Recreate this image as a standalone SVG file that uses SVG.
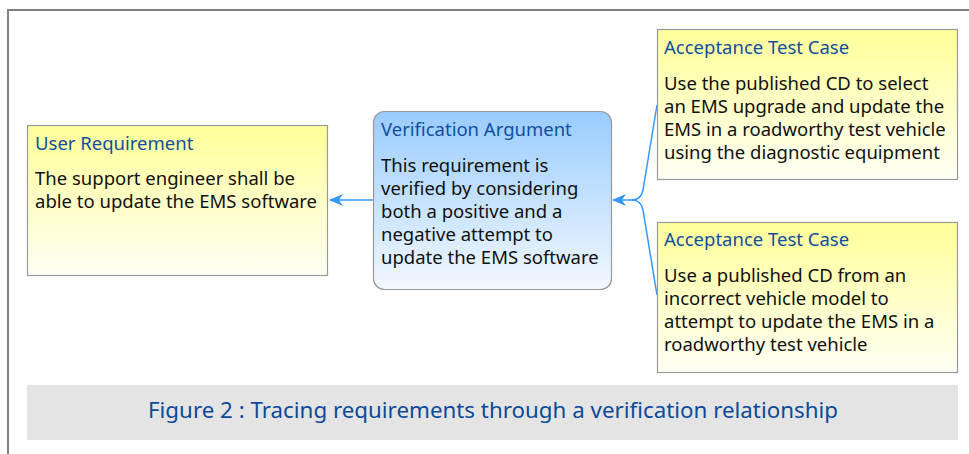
<svg xmlns="http://www.w3.org/2000/svg" width="969" height="454" viewBox="0 0 969 454">
  <defs>
    <linearGradient id="yellowFill" x1="0" y1="0" x2="0" y2="1">
      <stop offset="0" stop-color="#ffff99"/>
      <stop offset="1" stop-color="#fffff4"/>
    </linearGradient>
    <linearGradient id="blueFill" x1="0" y1="0" x2="0" y2="1">
      <stop offset="0" stop-color="#99ccff"/>
      <stop offset="1" stop-color="#f2f8ff"/>
    </linearGradient>
    <marker id="arrow" viewBox="0 0 14 12" refX="13" refY="6" markerWidth="14" markerHeight="12" markerUnits="userSpaceOnUse" orient="auto">
      <path d="M0,0 L14,6 L0,12 L4,6 Z" fill="#3399ff"/>
    </marker>
    <style>
      .box { stroke: #999999; stroke-width: 1.2; }
      .title { font-family: "Noto Sans", Lato, sans-serif; font-size: 18.5px; fill: #104f9e; }
      .body { font-family: "Noto Sans", Lato, sans-serif; font-size: 18.5px; fill: #111111; }
      .link { fill: none; stroke: #3399ff; stroke-width: 1.5; }
      .caption { font-family: "Noto Sans", "Liberation Sans", sans-serif; font-size: 21px; fill: #0c4a98; }
    </style>
  </defs>

  <!-- frame -->
  <path d="M8,455 L8,10 L969,10" fill="none" stroke="#808080" stroke-width="2"/>

  <!-- connectors -->
  <g id="connectors">
    <path class="link" d="M373,200 L330,200" marker-end="url(#arrow)"/>
    <path class="link" d="M657,105 L643,190 Q641,200 632,200 L613,200" marker-end="url(#arrow)"/>
    <path class="link" d="M657,295 L643,210 Q641,200 632,200"/>
  </g>

  <g id="user-requirement">
    <rect class="box" x="27.5" y="125.5" width="300" height="150" fill="url(#yellowFill)"/>
    <text class="title" x="35" y="150">User Requirement</text>
    <text class="body" x="35" y="185">The support engineer shall be</text>
    <text class="body" x="35" y="208">able to update the EMS software</text>
  </g>

  <g id="verification-argument">
    <rect class="box" x="373.5" y="111.5" width="238" height="178" rx="11" fill="url(#blueFill)"/>
    <text class="title" x="381" y="136">Verification Argument</text>
    <text class="body" x="381" y="172">This requirement is</text>
    <text class="body" x="381" y="195">verified by considering</text>
    <text class="body" x="381" y="218">both a positive and a</text>
    <text class="body" x="381" y="241">negative attempt to</text>
    <text class="body" x="381" y="264">update the EMS software</text>
  </g>

  <g id="acceptance-test-1">
    <rect class="box" x="657.5" y="29.5" width="300" height="150" fill="url(#yellowFill)"/>
    <text class="title" x="664" y="54">Acceptance Test Case</text>
    <text class="body" x="664" y="90">Use the published CD to select</text>
    <text class="body" x="664" y="113">an EMS upgrade and update the</text>
    <text class="body" x="664" y="136">EMS in a roadworthy test vehicle</text>
    <text class="body" x="664" y="159">using the diagnostic equipment</text>
  </g>

  <g id="acceptance-test-2">
    <rect class="box" x="657.5" y="222.5" width="300" height="150" fill="url(#yellowFill)"/>
    <text class="title" x="664" y="246">Acceptance Test Case</text>
    <text class="body" x="664" y="282">Use a published CD from an</text>
    <text class="body" x="664" y="305">incorrect vehicle model to</text>
    <text class="body" x="664" y="328">attempt to update the EMS in a</text>
    <text class="body" x="664" y="351">roadworthy test vehicle</text>
  </g>

  <g id="caption">
    <rect x="27" y="385" width="931" height="55" fill="#e4e4e4"/>
    <text class="caption" x="148" y="418" textLength="690" lengthAdjust="spacingAndGlyphs">Figure 2 : Tracing requirements through a verification relationship</text>
  </g>
</svg>
